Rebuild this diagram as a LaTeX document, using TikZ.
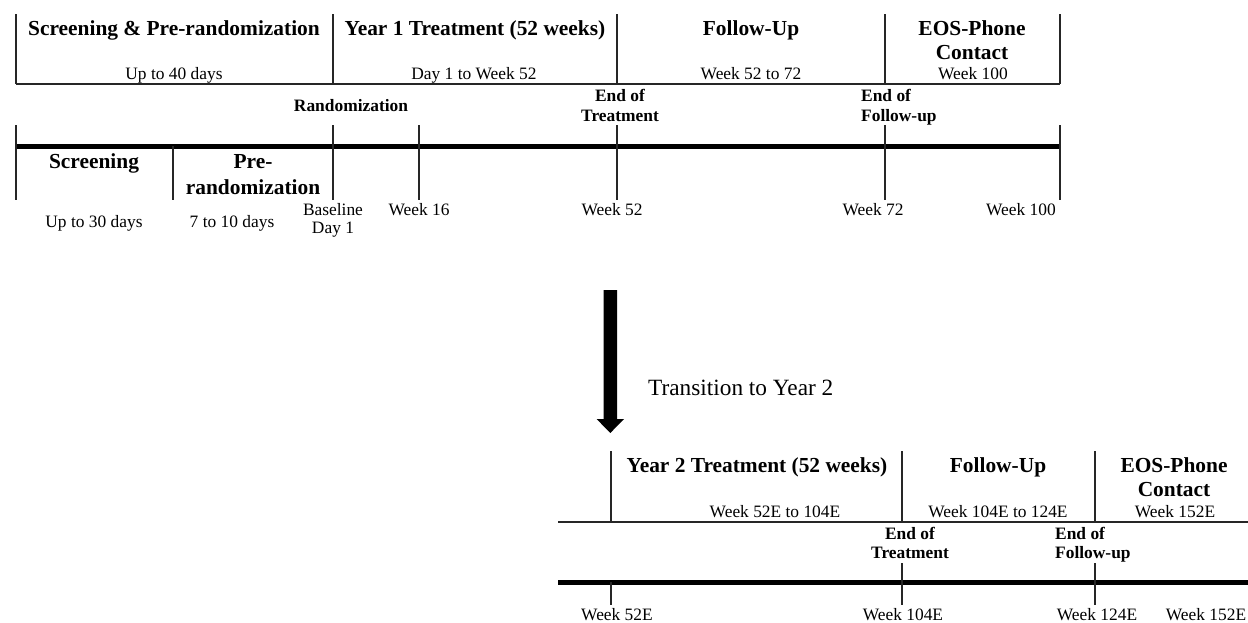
\documentclass[tikz,border=0pt]{standalone}
\usepackage{fontspec}
\setmainfont{Liberation Serif}
\begin{document}
\begin{tikzpicture}[x=1pt,y=-1pt,
  thin line/.style={line width=1.2pt,black!85},
  thick line/.style={line width=5.5pt,black},
  hdr/.style={font=\fontsize{21.4}{24}\selectfont\bfseries,inner sep=0pt,anchor=base},
  lbl/.style={font=\fontsize{17.4}{20}\selectfont,inner sep=0pt,anchor=base},
  blbl/.style={font=\fontsize{17.4}{20}\selectfont\bfseries,inner sep=0pt,anchor=base},
  trans/.style={font=\fontsize{23.3}{26}\selectfont,inner sep=0pt,anchor=base west}]
\useasboundingbox (0,0) rectangle (1248,622);
% ---------- Top phases ----------
\foreach \x in {16,333,617,885,1060} \draw[thin line] (\x,14) -- (\x,84);
\draw[thin line] (16,84) -- (1060,84);
\node[hdr] (h1) at (174,35) {Screening \& Pre-randomization};
\node[lbl] (s1) at (174,79) {Up to 40 days};
\node[hdr] (h2) at (475,35) {Year 1 Treatment (52 weeks)};
\node[lbl] (s2) at (474,79) {Day 1 to Week 52};
\node[hdr] (h3) at (751,35) {Follow-Up};
\node[lbl] (s3) at (751,79) {Week 52 to 72};
\node[hdr] (h4a) at (972,35) {EOS-Phone};
\node[hdr] (h4b) at (972,59) {Contact};
\node[lbl] (s4) at (973,79) {Week 100};
% milestones
\node[blbl] (rand) at (351,111) {Randomization};
\node[blbl] (eot1a) at (620,101) {End of};
\node[blbl] (eot1b) at (620,121) {Treatment};
\node[blbl,anchor=base west] (eof1a) at (861,101) {End of};
\node[blbl,anchor=base west] (eof1b) at (861,121) {Follow-up};
% ---------- Year 1 timeline ----------
\draw[thick line] (16,146.5) -- (1060,146.5);
\foreach \x in {16,333,419,617,885,1060} \draw[thin line] (\x,125) -- (\x,200);
\draw[thin line] (173,146) -- (173,200);
\node[hdr] (scr) at (94,168) {Screening};
\node[hdr] (pre1) at (253,168) {Pre-};
\node[hdr] (pre2) at (253,194) {randomization};
\node[lbl] (d30) at (94,227) {Up to 30 days};
\node[lbl] (d710) at (232,227) {7 to 10 days};
\node[lbl] (bl1) at (333,215) {Baseline};
\node[lbl] (bl2) at (333,233) {Day 1};
\node[lbl] (w16) at (419,215) {Week 16};
\node[lbl] (w52) at (612,215) {Week 52};
\node[lbl] (w72) at (873,215) {Week 72};
\node[lbl] (w100) at (1021,215) {Week 100};
% ---------- Transition arrow ----------
\fill[black] (603.5,290) -- (617,290) -- (617,419) -- (624,419) -- (610.3,433)
  -- (596.6,419) -- (603.5,419) -- cycle;
\node[trans] (tr) at (648,395) {Transition to Year 2};
% ---------- Year 2 phases ----------
\foreach \x in {611,902,1095} \draw[thin line] (\x,451) -- (\x,522);
\draw[thin line] (558,522) -- (1248,522);
\node[hdr] (y2h) at (757,472) {Year 2 Treatment (52 weeks)};
\node[lbl] (y2s) at (775,517) {Week 52E to 104E};
\node[hdr] (f2h) at (998,472) {Follow-Up};
\node[lbl] (f2s) at (998,517) {Week 104E to 124E};
\node[hdr] (e2a) at (1174,472) {EOS-Phone};
\node[hdr] (e2b) at (1174,496) {Contact};
\node[lbl] (e2s) at (1175,517) {Week 152E};
\node[blbl] (eot2a) at (910,539) {End of};
\node[blbl] (eot2b) at (910,558) {Treatment};
\node[blbl,anchor=base west] (eof2a) at (1055,539) {End of};
\node[blbl,anchor=base west] (eof2b) at (1055,558) {Follow-up};
% ---------- Year 2 timeline ----------
\draw[thick line] (558,582.5) -- (1248,582.5);
\draw[thin line] (611,582) -- (611,605);
\draw[thin line] (902,563) -- (902,605);
\draw[thin line] (1095,563) -- (1095,605);
\node[lbl] (w52e) at (617,620) {Week 52E};
\node[lbl] (w104e) at (903,620) {Week 104E};
\node[lbl] (w124e) at (1097,620) {Week 124E};
\node[lbl] (w152e) at (1206,620) {Week 152E};
\end{tikzpicture}
\end{document}
